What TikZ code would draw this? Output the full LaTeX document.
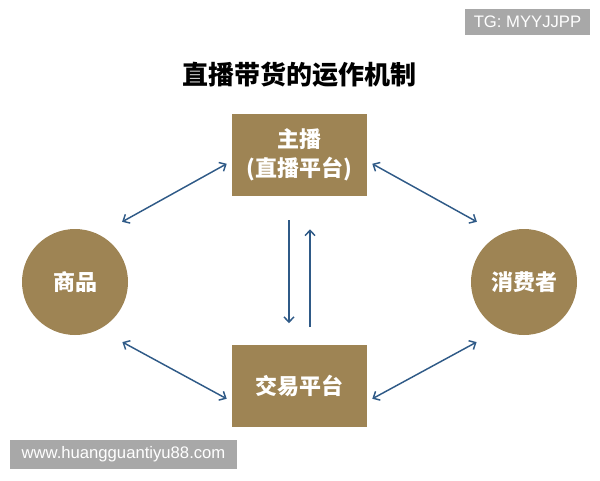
\documentclass[tikz,border=0pt]{standalone}
\usepackage{fontspec}
\setmainfont{Liberation Sans}
\newfontfamily\cjk{Noto Sans CJK SC}
\usetikzlibrary{arrows.meta}
\definecolor{gold}{RGB}{158,132,84}
\definecolor{linkblue}{RGB}{47,90,135}
\definecolor{taggray}{RGB}{168,168,168}

\begin{document}
\begin{tikzpicture}[x=0.75pt,y=-0.75pt,>={Straight Barb[length=4pt,width=7.5pt]}]
\tikzstyle{every node}+=[inner sep=0pt]
\tikzstyle{box}=[fill=gold, text=white, align=center, minimum width=101.25pt, minimum height=61.5pt, font=\cjk\bfseries\fontsize{16.5}{22}\selectfont]
\tikzstyle{dot}=[circle, fill=gold, text=white, minimum size=79.5pt, font=\cjk\bfseries\fontsize{16.5}{22}\selectfont]
\tikzstyle{link}=[draw=linkblue, line width=1.1pt]
\tikzstyle{tag}=[fill=taggray, text=white, font=\fontsize{12.5}{15}\selectfont]
\useasboundingbox (0,0) rectangle (600,480);
\node [font=\cjk\bfseries\fontsize{19.5}{24}\selectfont] (title) at (299.5,75) {直播带货的运作机制};
\node [box] (zb) at (299.5,155) {主播\\(直播平台)};
\node [box] (jy) at (299.5,385.5) {交易平台};
\node [dot] (sp) at (75,282) {商品};
\node [dot] (xf) at (524,282) {消费者};
\node [tag, minimum width=93.75pt, minimum height=19.5pt] (tg) at (527.5,22) {TG: MYYJJPP};
\node [tag, minimum width=170.25pt, minimum height=21.75pt] (web) at (123.5,454.5) {www.huangguantiyu88.com};
\draw [link, <->, shorten <=19.7pt, shorten >=4.3pt] (sp.63) -- ([yshift=-4.5pt]zb.west);
\draw [link, <->, shorten <=19.8pt, shorten >=4.3pt] (sp.-63) -- ([yshift=-12pt]jy.west);
\draw [link, <->, shorten <=19.7pt, shorten >=4.3pt] (xf.117) -- ([yshift=-4.5pt]zb.east);
\draw [link, <->, shorten <=19.8pt, shorten >=4.3pt] (xf.-117) -- ([yshift=-12pt]jy.east);
\draw [link, ->, shorten <=18pt, shorten >=15.75pt] ([xshift=-7.9pt]zb.south) -- ([xshift=-7.9pt]jy.north);
\draw [link, ->, shorten <=12.75pt, shorten >=24.75pt] ([xshift=7.9pt]jy.north) -- ([xshift=7.9pt]zb.south);
\end{tikzpicture}
\end{document}
